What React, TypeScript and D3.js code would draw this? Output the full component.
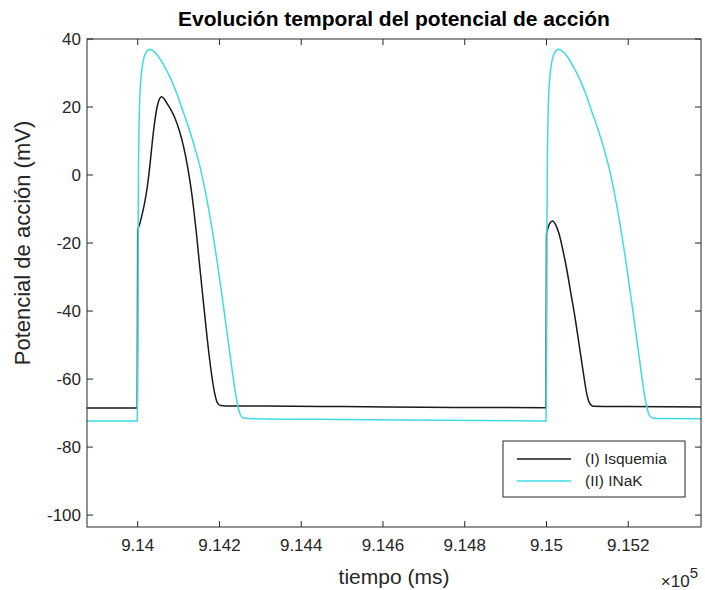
import React from "react";
import * as d3 from "d3";

// Series (I) Isquemia : time (ms), potential (mV)
const isqT = [913876, 913999, 914000, 914006, 914012, 914018, 914024, 914030, 914036, 914042, 914048, 914053, 914058, 914064, 914072, 914082, 914092, 914102, 914112, 914122, 914130, 914137, 914144, 914151, 914160, 914170, 914180, 914188, 914195, 914203, 914215, 914300, 914500, 914700, 914999,
  915000, 915004, 915008, 915015, 915022, 915030, 915040, 915050, 915060, 915070, 915080, 915090, 915098, 915105, 915115, 915200, 915378];
const isqV = [-68.5, -68.5, -16.3, -14, -11, -7.5, -3, 3, 10, 16, 20.3, 22.3, 23, 22.5, 21, 19, 16.5, 13, 8.5, 2.5, -3.5, -10, -17.5, -26, -36.5, -48, -58, -64, -67, -67.8, -67.9, -67.9, -68.1, -68.3, -68.4,
  -17.5, -15.5, -14.2, -13.5, -14.5, -17, -22, -28, -35, -42, -50, -58, -64, -67, -68, -68.1, -68.2];

// Series (II) INaK
const inakT = [913876, 913999, 914000.5, 914001, 914002, 914004, 914007, 914012, 914020, 914030, 914040, 914050, 914065, 914080, 914095, 914110, 914125, 914140, 914152, 914165, 914180, 914195, 914210, 914225, 914237, 914245, 914251, 914258, 914270, 914500, 914750, 914999,
  915000.5, 915001, 915002, 915004, 915007, 915012, 915020, 915030, 915040, 915050, 915065, 915080, 915095, 915110, 915125, 915140, 915152, 915165, 915180, 915195, 915210, 915225, 915237, 915245, 915251, 915258, 915270, 915378];
const inakV = [-72.3, -72.3, -50, -20, 2, 18, 27, 32.5, 36, 37, 36.3, 35, 32, 28.5, 24.2, 19, 13.8, 7.9, 2.6, -4.6, -14.5, -26, -38.8, -52, -62.5, -68, -70.5, -71.4, -71.6, -71.9, -72.1, -72.3,
  -50, -20, 2, 18, 27, 32.5, 36, 37, 36.3, 35, 32, 28.5, 24.2, 19, 13.8, 7.9, 2.6, -4.6, -14.5, -26, -38.8, -52, -62.5, -68, -70.5, -71.4, -71.6, -71.7];

const xTicks = [914000, 914200, 914400, 914600, 914800, 915000, 915200];
const xTickLabels = ["9.14", "9.142", "9.144", "9.146", "9.148", "9.15", "9.152"];
const yTicks = [-100, -80, -60, -40, -20, 0, 20, 40];
const legendNames = ["(I) Isquemia", "(II) INaK"];

const W = 705, H = 590;
const L = 87, R = 701, T = 39, B = 527;
const AX = "#262626";
const FONT = "'Liberation Sans', Arial, Helvetica, sans-serif";
const BLACK = "#1a1a1a";
const CYAN = "#3fdbe4";

export default function App() {
  const x = d3.scaleLinear().domain([913876, 915378]).range([L, R]);
  const y = d3.scaleLinear().domain([-103.5, 40]).range([B, T]);
  const line = d3.line<[number, number]>().x(d => x(d[0])).y(d => y(d[1])).curve(d3.curveMonotoneX);
  const isq = isqT.map((t, i) => [t, isqV[i]] as [number, number]);
  const inak = inakT.map((t, i) => [t, inakV[i]] as [number, number]);
  const tl = 6;
  return (
    <svg width={W} height={H} style={{ position: "absolute", left: 0, top: 0, background: "#fff" }} fontFamily={FONT}>
      <rect x={0} y={0} width={W} height={H} fill="#fff" />
      <defs>
        <clipPath id="plot"><rect x={L} y={T} width={R - L} height={B - T} /></clipPath>
      </defs>
      <g clipPath="url(#plot)" fill="none" strokeWidth={1.5}>
        <path d={line(isq) || ""} stroke={BLACK} />
        <path d={line(inak) || ""} stroke={CYAN} />
      </g>
      <rect x={L} y={T} width={R - L} height={B - T} fill="none" stroke={AX} strokeWidth={1} />
      {xTicks.map((t, i) => (
        <g key={"x" + t}>
          <line x1={x(t)} x2={x(t)} y1={B} y2={B - tl} stroke={AX} />
          <line x1={x(t)} x2={x(t)} y1={T} y2={T + tl} stroke={AX} />
          <text x={x(t)} y={B + 24} textAnchor="middle" fontSize={17} fill={AX}>{xTickLabels[i]}</text>
        </g>
      ))}
      {yTicks.map(t => (
        <g key={"y" + t}>
          <line x1={L} x2={L + tl} y1={y(t)} y2={y(t)} stroke={AX} />
          <line x1={R} x2={R - tl} y1={y(t)} y2={y(t)} stroke={AX} />
          <text x={L - 6} y={y(t)} dy="0.35em" textAnchor="end" fontSize={17} fill={AX}>{t}</text>
        </g>
      ))}
      <text x={(L + R) / 2} y={26} textAnchor="middle" fontSize={21} fontWeight="bold" fill="#000">Evolución temporal del potencial de acción</text>
      <text x={(L + R) / 2} y={584} textAnchor="middle" fontSize={21} fill={AX}>tiempo (ms)</text>
      <text transform={`translate(30,243) rotate(-90)`} textAnchor="middle" fontSize={22} fill={AX}>Potencial de acción (mV)</text>
      <text x={698} y={587} textAnchor="end" fontSize={17} fill={AX}>×10<tspan dy={-9} fontSize={15}>5</tspan></text>
      <rect x={503} y={441} width={182} height={56} fill="#fff" stroke={AX} strokeWidth={1} />
      {legendNames.map((n, i) => (
        <g key={n}>
          <line x1={517} x2={571} y1={459 + i * 22} y2={459 + i * 22} stroke={i === 0 ? BLACK : CYAN} strokeWidth={1.5} />
          <text x={585} y={459 + i * 22} dy="0.35em" fontSize={15.5} fill={AX}>{n}</text>
        </g>
      ))}
    </svg>
  );
}
